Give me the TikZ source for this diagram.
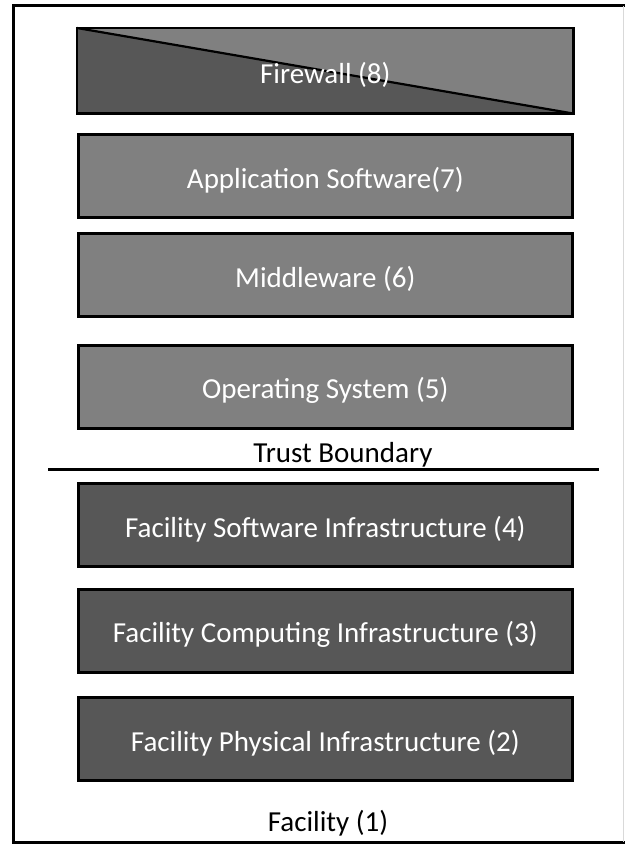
\documentclass[tikz,border=0pt]{standalone}
\usepackage{fontspec}
\setmainfont{Carlito}
\begin{document}
\begin{tikzpicture}[x=1pt,y=-1pt,
  boxfont/.style={font=\fontsize{29}{32}\selectfont},
  layer/.style={draw=black,line width=2.6pt,minimum width=494pt,minimum height=83pt,
    inner sep=0pt,anchor=north west},
  label/.style={boxfont,text=white,yshift=-4pt},
  light/.style={layer,fill=black!50},
  dark/.style={layer,fill=black!66},
  caption/.style={boxfont,text=black}]
\useasboundingbox (0,0) rectangle (625,845);
% outer facility frame
\draw[line width=3pt] (625,6) -- (13,6) -- (13,842) -- (625,842);
\draw[black!15,line width=1pt] (623,6) -- (623,842);
% firewall, split diagonally
\node[layer,draw=none,fill=black!50] (fw) at (77,28) {};
\fill[black!66] (fw.north west) -- (fw.south east) -- (fw.south west) -- cycle;
\draw[line width=2.2pt] (fw.north west) -- (fw.south east);
\draw[line width=2.6pt] (fw.north west) rectangle (fw.south east);
\node[label] (fwt) at (fw.center) {Firewall (8)};
% layers above the trust boundary
\node[light] (app) at (77,133) {};
\node[label] (appt) at (app.center) {Application Software(7)};
\node[light] (mid) at (77,232) {};
\node[label] (midt) at (mid.center) {Middleware (6)};
\node[light] (os) at (77,344) {};
\node[label] (ost) at (os.center) {Operating System (5)};
% trust boundary
\node[caption] (tb) at (343,455) {Trust Boundary};
\coordinate (tbl) at (48,469);
\coordinate (tbr) at (599,469);
\draw[line width=3pt] (tbl) -- (tbr);
% facility layers
\node[dark] (fsi) at (77,482) {};
\node[label] (fsit) at (fsi.center) {Facility Software Infrastructure (4)};
\node[dark] (fci) at (77,588) {};
\node[label] (fcit) at (fci.center) {Facility Computing Infrastructure (3)};
\node[dark] (fpi) at (77,696) {};
\node[label] (fpit) at (fpi.center) {Facility Physical Infrastructure (2)};
\node[caption] (fac) at (328,823) {Facility (1)};
\end{tikzpicture}
\end{document}
